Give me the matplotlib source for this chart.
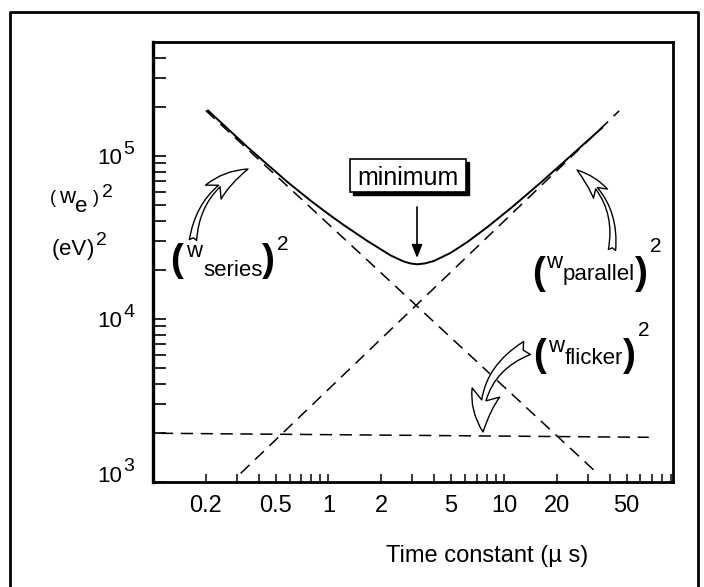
import matplotlib
matplotlib.use("Agg")
import matplotlib.pyplot as plt
from matplotlib.patches import Rectangle
from matplotlib.lines import Line2D
from matplotlib.ticker import NullLocator
from matplotlib.transforms import offset_copy

plt.rcParams['font.family'] = ['Liberation Sans', 'DejaVu Sans']

W, H = 704, 587

# total noise (solid curve)
total_tau = [0.206, 0.345, 0.586, 0.8, 1.0, 1.23, 1.667, 2.26, 2.69, 2.95, 3.21, 3.55, 3.99, 4.97,
             6.18, 8.03, 11, 15.7, 21, 28.4, 36.3]
total_w2 = [1.9e5, 1.135e5, 6.9e4, 5.27e4, 4.4e4, 3.75e4, 3.01e4, 2.455e4, 2.25e4, 2.189e4, 2.165e4,
            2.191e4, 2.269e4, 2.544e4, 2.963e4, 3.653e4, 4.804e4, 6.66e4, 8.79e4, 1.177e5, 1.49e5]

# asymptotes (dashed)
series_tau = [0.2, 33.3]
series_w2 = [1.9e5, 1157]
parallel_tau = [0.316, 45.4]
parallel_w2 = [1130, 1.89e5]
flicker_tau = [0.111, 67]
flicker_w2 = [1990, 1880]

x_ticks = [0.2, 0.3, 0.4, 0.5, 0.6, 0.7, 0.8, 0.9,
           1, 2, 3, 4, 5, 6, 7, 8, 9,
           10, 20, 30, 40, 50, 60, 70, 80, 90]
x_labelled = {0.2: '0.2', 0.5: '0.5', 1: '1', 2: '2', 5: '5', 10: '10', 20: '20', 50: '50'}
y_ticks = [1e3, 2e3, 3e3, 4e3, 5e3, 6e3, 7e3, 8e3, 9e3,
           1e4, 2e4, 3e4, 4e4, 5e4, 6e4, 7e4, 8e4, 9e4,
           1e5, 2e5, 3e5, 4e5]
y_decades = [1e3, 1e4, 1e5]
y_exponents = ['3', '4', '5']


def fx(x):
    return x / W


def fy(y):
    return 1 - y / H


fig = plt.figure(figsize=(W / 100, H / 100), dpi=100)
renderer = fig.canvas.get_renderer()

# outer frame of the scanned figure
fig.add_artist(Line2D([fx(10), fx(10), fx(698), fx(698)], [fy(600), fy(12), fy(12), fy(600)],
                      transform=fig.transFigure, color='k', lw=2))

ax = fig.add_axes([fx(153), fy(482), 520 / W, 440 / H])
ax.set_xscale('log')
ax.set_yscale('log')
ax.set_xlim(0.1, 92)
ax.set_ylim(1e3, 5e5)

ax.plot(total_tau, total_w2, color='k', lw=1.4)
for t, v in [(series_tau, series_w2), (parallel_tau, parallel_w2), (flicker_tau, flicker_w2)]:
    ax.plot(t, v, color='k', lw=1.1, linestyle=(0, (8, 5)))

ax.set_xticks(x_ticks)
ax.set_xticklabels([x_labelled.get(t, '') for t in x_ticks])
ax.xaxis.set_minor_locator(NullLocator())
ax.set_yticks(y_ticks)
ax.set_yticklabels([])
ax.yaxis.set_minor_locator(NullLocator())
ax.tick_params(axis='x', direction='in', length=6, width=1.1, labelsize=17, pad=9)
ax.tick_params(axis='y', direction='in', length=9, width=1.2)
for s in ax.spines.values():
    s.set_linewidth(2)
ax.spines['left'].set_linewidth(2.4)

# y tick labels 10^n drawn by hand (big superscripts)
ytr = ax.get_yaxis_transform()
base_off = [0, -8.5, -8.5]
sup_off = [11, 1.5, 1.5]
for v, e, bo, so in zip(y_decades, y_exponents, base_off, sup_off):
    ax.text(-31 / 520, v, '10', fontsize=16, ha='right', va='baseline',
            transform=offset_copy(ytr, fig=fig, x=0, y=bo, units='dots'))
    ax.text(-30 / 520, v, e, fontsize=14, ha='left', va='baseline',
            transform=offset_copy(ytr, fig=fig, x=0, y=so, units='dots'))


def compose(x, parts):
    # parts: (text, size, baseline y in pixels, bold, gap after)
    for s, size, y, bold, gap in parts:
        t = fig.text(fx(x), fy(y), s, fontsize=size, fontweight='bold' if bold else 'normal',
                     ha='left', va='baseline')
        x += t.get_window_extent(renderer=renderer).width + gap


# axis labels
compose(50, [('(', 13, 203, False, 3), ('w', 16, 203, False, 0), ('e', 16, 212, False, 5),
             (')', 13, 203, False, 3), ('2', 14, 197, False, 0)])
compose(52, [('(', 16, 255, False, 0), ('eV', 16, 255, False, 0), (')', 16, 255, False, 2),
             ('2', 14, 245, False, 0)])
fig.text(fx(487), fy(562), 'Time constant (\u00b5 s)', fontsize=17, ha='center', va='baseline')

# component labels
compose(170, [('(', 28, 271, True, 3), ('w', 16, 257, False, 1), ('series', 16, 276, False, 0),
              (')', 28, 271, True, 2), ('2', 15, 250, False, 0)])
compose(532, [('(', 28, 284, True, 1), ('w', 16, 268, False, 1), ('parallel', 16, 280, False, 0),
              (')', 28, 284, True, 2), ('2', 15, 252, False, 0)])
compose(533, [('(', 28, 366, True, 2), ('w', 16, 352, False, 1), ('flicker', 16, 364, False, 0),
              (')', 28, 366, True, 2), ('2', 15, 336, False, 0)])


# hollow curved arrows
def hollow_arrow(tail, tip, rad, hl, hw, tw, scale=15):
    ax.annotate('', xy=(tip[0], H - tip[1]), xytext=(tail[0], H - tail[1]),
                xycoords='figure pixels', textcoords='figure pixels',
                arrowprops=dict(arrowstyle='fancy,head_length=%g,head_width=%g,tail_width=%g' % (hl, hw, tw),
                                connectionstyle='arc3,rad=%g' % rad, fc='white', ec='k', lw=1,
                                mutation_scale=scale, shrinkA=0, shrinkB=0))


hollow_arrow((193, 240), (248, 169), -0.3, 2.0, 1.0, 0.35)
hollow_arrow((612, 250), (577, 170), 0.3, 1.6, 0.8, 0.35)
hollow_arrow((527, 348), (483, 432), 0.35, 1.9, 1.4, 0.7)

# "minimum" box with shadow, and its arrow
fig.add_artist(Rectangle((fx(353), fy(195)), 116 / W, 33 / H, transform=fig.transFigure, fc='k', ec='k'))
fig.add_artist(Rectangle((fx(350), fy(192)), 116 / W, 33 / H, transform=fig.transFigure,
                         fc='white', ec='k', lw=1.2))
fig.text(fx(408), fy(185), 'minimum', fontsize=18, ha='center', va='baseline')
ax.annotate('', xy=(417, H - 258), xytext=(417, H - 207), xycoords='figure pixels',
            textcoords='figure pixels',
            arrowprops=dict(arrowstyle='-|>,head_length=0.5,head_width=0.2', color='k', lw=1.2,
                            mutation_scale=16, shrinkA=0, shrinkB=0))

fig.savefig('out.png', dpi=100)
